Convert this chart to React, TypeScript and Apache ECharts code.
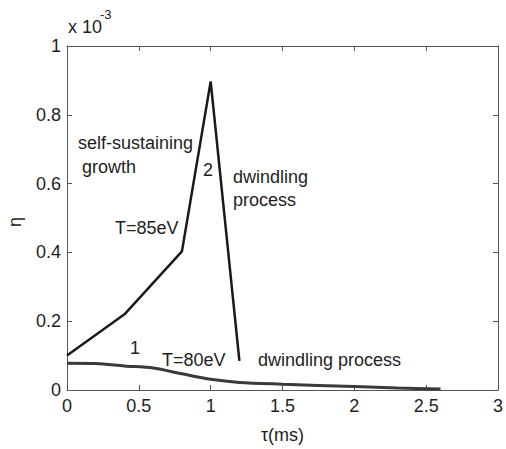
import React, { useEffect, useRef } from "react";
import * as echarts from "echarts";

// τ (ms) and η (×10^-3)
const curve2Tau = [0, 0.4, 0.8, 1.0, 1.2];
const curve2Eta = [0.1, 0.22, 0.403, 0.897, 0.085];

const curve1Tau = [0, 0.2, 0.4, 0.6, 0.8, 1.0, 1.2, 1.5, 2.0, 2.3, 2.6];
const curve1Eta = [0.078, 0.077, 0.07, 0.064, 0.047, 0.031, 0.022, 0.017, 0.01, 0.006, 0.003];

const xTicks = [0, 0.5, 1, 1.5, 2, 2.5, 3];
const yTicks = [0, 0.2, 0.4, 0.6, 0.8, 1];

const FONT = "'Liberation Sans', Arial, sans-serif";
const INK = "#1e1e1e";
const AXIS = "#555";

export default function App() {
  const ref = useRef<HTMLDivElement>(null);
  useEffect(() => {
    if (!ref.current) return;
    const chart = echarts.init(ref.current, null, { renderer: "svg" });
    const labelStyle = { color: INK, fontSize: 18, fontFamily: FONT };
    const tickStyle = { inside: true, length: 5, lineStyle: { color: AXIS, width: 1 } };
    const baseX = {
      type: "value" as const,
      min: 0,
      max: 3,
      interval: 0.5,
      splitLine: { show: false },
      axisLine: { show: true, onZero: false, lineStyle: { color: AXIS, width: 1 } },
      axisTick: tickStyle,
    };
    const baseY = {
      type: "value" as const,
      min: 0,
      max: 1,
      interval: 0.2,
      splitLine: { show: false },
      axisLine: { show: true, onZero: false, lineStyle: { color: AXIS, width: 1 } },
      axisTick: tickStyle,
    };
    const fmt = (v: number) => {
      const r = Math.round(v * 10) / 10;
      return xTicks.includes(r) || yTicks.includes(r) ? String(r) : "";
    };
    const txt = (text: string, x: number, y: number, extra: any = {}) => ({
      type: "text",
      x,
      y,
      style: {
        text,
        fill: INK,
        font: `18px ${FONT}`,
        textVerticalAlign: "middle",
        ...extra,
      },
    });
    chart.setOption({
      animation: false,
      backgroundColor: "#fff",
      grid: { left: 67, right: 3, top: 46, bottom: 56 },
      xAxis: [
        {
          ...baseX,
          position: "bottom",
          axisLabel: { ...labelStyle, margin: 7, formatter: fmt },
          name: "τ(ms)",
          nameLocation: "middle",
          nameGap: 36,
          nameTextStyle: { ...labelStyle },
        },
        { ...baseX, position: "top", axisLabel: { show: false } },
      ],
      yAxis: [
        {
          ...baseY,
          position: "left",
          axisLabel: { ...labelStyle, margin: 6, formatter: fmt },
        },
        { ...baseY, position: "right", axisLabel: { show: false } },
      ],
      graphic: [
        txt("x 10", 68, 27),
        txt("-3", 100, 14, { font: `13px ${FONT}` }),
        {
          type: "text",
          x: 15,
          y: 222,
          rotation: Math.PI / 2,
          style: {
            text: "η",
            fill: INK,
            font: `18px ${FONT}`,
            textAlign: "center",
            textVerticalAlign: "middle",
          },
        },
        txt("self-sustaining", 78, 143),
        txt("growth", 82, 167),
        txt("2", 203, 170),
        txt("dwindling", 233, 177),
        txt("process", 233, 200),
        txt("T=85eV", 115, 228),
        txt("1", 130, 348),
        txt("T=80eV", 162, 360),
        txt("dwindling process", 258, 360),
      ],
      series: [
        {
          type: "line",
          data: curve2Tau.map((t, i) => [t, curve2Eta[i]]),
          showSymbol: false,
          lineStyle: { color: "#1a1a1a", width: 2.5 },
          z: 3,
        },
        {
          type: "line",
          data: curve1Tau.map((t, i) => [t, curve1Eta[i]]),
          showSymbol: false,
          smooth: 0.3,
          lineStyle: { color: "#3a3a3a", width: 3 },
          z: 2,
        },
      ],
    });
    return () => chart.dispose();
  }, []);
  return <div ref={ref} style={{ width: 506, height: 449, position: "absolute", left: 0, top: 0 }} />;
}
